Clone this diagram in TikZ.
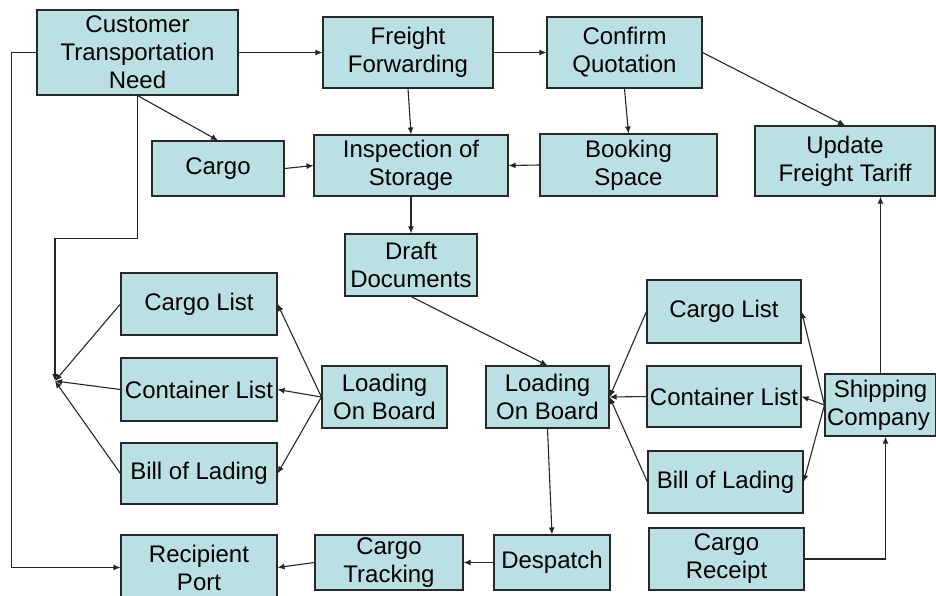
\documentclass[tikz,border=0pt]{standalone}
\usepackage{fontspec}
\setmainfont{Liberation Sans}
\usetikzlibrary{arrows.meta,calc}
\definecolor{boxfill}{RGB}{187,224,227}
\definecolor{boxline}{RGB}{40,40,40}
\begin{document}
\begin{tikzpicture}[x=1pt,y=-1pt,
  box/.style={draw=boxline,fill=boxfill,line width=1.1pt,inner sep=0pt,align=center,
    font=\fontsize{24}{28}\selectfont},
  arr/.style={draw=black!85,line width=1.1pt,-{Latex[length=7pt,width=6pt]}},
  ln/.style={draw=black!85,line width=1.1pt}]
\useasboundingbox (0,0) rectangle (936,595);
% boxes
\node[box,minimum width=201,minimum height=85] (ctn) at (137.5,52.5) {Customer\\Transportation\\Need};
\node[box,minimum width=170,minimum height=71] (ff) at (408,52.5) {Freight\\Forwarding};
\node[box,minimum width=155,minimum height=71] (cq) at (624.5,52.5) {Confirm\\Quotation};
\node[box,minimum width=132,minimum height=55] (cargo) at (218,168.5) {Cargo};
\node[box,minimum width=194,minimum height=61] (insp) at (411,165.5) {Inspection of\\Storage};
\node[box,minimum width=177,minimum height=62] (book) at (628.5,165) {Booking\\Space};
\node[box,minimum width=180,minimum height=70] (upd) at (845,161) {Update\\Freight Tariff};
\node[box,minimum width=132,minimum height=62] (draft) at (411,265) {Draft\\Documents};
\node[box,minimum width=156,minimum height=62] (cla) at (199,304) {Cargo List};
\node[box,minimum width=156,minimum height=63] (ctla) at (199,389.5) {Container List};
\node[box,minimum width=156,minimum height=61] (bla) at (199,473.5) {Bill of Lading};
\node[box,minimum width=125,minimum height=62] (loba) at (384.5,397) {Loading\\On Board};
\node[box,minimum width=123,minimum height=62] (lobb) at (547.5,397) {Loading\\On Board};
\node[box,minimum width=154,minimum height=63] (clb) at (724,311.5) {Cargo List};
\node[box,minimum width=154,minimum height=61] (ctlb) at (724,396.5) {Container List};
\node[box,minimum width=155,minimum height=62] (blb) at (725.5,482) {Bill of Lading};
\node[box,minimum width=111,minimum height=62,text width=111] (sc) at (880.5,405) {Shipping\\\hspace*{-4pt}Company};
\node[box,minimum width=156,minimum height=65] (recip) at (199,567.5) {Recipient\\Port};
\node[box,minimum width=148,minimum height=55] (ct) at (389,562.5) {Cargo\\Tracking};
\node[box,minimum width=116,minimum height=55] (desp) at (552,562.5) {Despatch};
\node[box,minimum width=155,minimum height=62] (cr) at (726.5,559) {Cargo\\Receipt};
\coordinate (j) at (55,381);
% connectors
\draw[arr] (ctn.west) -- ++(-25,0) |- (recip.west);
\draw[arr] (ctn.east) -- (ff.west);
\draw[arr] (ff.east) -- (cq.west);
\draw[arr] (ctn.south) -- (cargo.north);
\draw[arr] (ctn.south) -- ++(0,143) -| (j);
\draw[arr] (cla.west) -- (j);
\draw[arr] (ctla.west) -- (j);
\draw[arr] (bla.west) -- (j);
\draw[arr] (ff.south) -- (insp.north);
\draw[arr] (cq.south) -- (book.north);
\draw[arr] (cq.east) -- (upd.north);
\draw[arr] (cargo.east) -- (insp.west);
\draw[arr] (book.west) -- (insp.east);
\draw[arr] (insp.south) -- (draft.north);
\draw[arr] (draft.south) -- (lobb.north);
\draw[arr] (loba.west) -- (cla.east);
\draw[arr] (loba.west) -- (ctla.east);
\draw[arr] (loba.west) -- (bla.east);
\draw[arr] (clb.west) -- (lobb.east);
\draw[arr] (ctlb.west) -- (lobb.east);
\draw[arr] (blb.west) -- (lobb.east);
\draw[arr] (sc.west) -- (clb.east);
\draw[arr] (sc.west) -- (ctlb.east);
\draw[arr] (sc.west) -- (blb.east);
\draw[arr] (sc.north) -- (sc.north |- upd.south);
\draw[arr] (cr.east) -| ([xshift=5pt]sc.south);
\draw[arr] (lobb.south) -- (desp.north);
\draw[arr] (desp.west) -- (ct.east);
\draw[arr] (ct.west) -- (recip.east);
\end{tikzpicture}
\end{document}
